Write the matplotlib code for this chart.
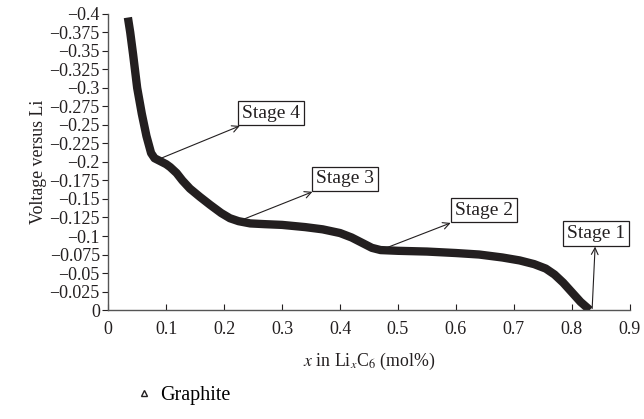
import matplotlib
matplotlib.use("Agg")
import matplotlib.pyplot as plt
from matplotlib.lines import Line2D

plt.rcParams['font.family'] = ['Liberation Serif', 'DejaVu Serif']
plt.rcParams['mathtext.fontset'] = 'stix'

# --- Data ---
x_li = [0.034, 0.038, 0.043, 0.050, 0.058, 0.066, 0.074, 0.080, 0.090, 0.100,
        0.107, 0.118, 0.128, 0.141, 0.158, 0.176, 0.195, 0.210, 0.225, 0.245,
        0.270, 0.300, 0.340, 0.370, 0.400, 0.420, 0.440, 0.455, 0.470, 0.500,
        0.550, 0.600, 0.640, 0.680, 0.710, 0.735, 0.755, 0.770, 0.785, 0.800,
        0.815, 0.831]
voltage = [-0.395, -0.375, -0.345, -0.300, -0.265, -0.235, -0.212, -0.205, -0.201, -0.197,
           -0.193, -0.185, -0.175, -0.164, -0.153, -0.142, -0.131, -0.124, -0.120, -0.117,
           -0.116, -0.115, -0.112, -0.109, -0.104, -0.098, -0.090, -0.084, -0.081, -0.080,
           -0.079, -0.077, -0.075, -0.071, -0.067, -0.062, -0.056, -0.048, -0.037, -0.024,
           -0.011, 0.0]

stages = ["Stage 4", "Stage 3", "Stage 2", "Stage 1"]
stage_points = [(0.085, -0.203), (0.225, -0.120), (0.470, -0.081), (0.835, -0.002)]
stage_text = [(0.231, -0.266), (0.358, -0.177), (0.598, -0.135), (0.791, -0.103)]

y_ticks = [-0.4, -0.375, -0.35, -0.325, -0.3, -0.275, -0.25, -0.225, -0.2, -0.175,
           -0.15, -0.125, -0.1, -0.075, -0.05, -0.025, 0]
y_labels = ["\u22120.4", "\u22120.375", "\u22120.35", "\u22120.325", "\u22120.3", "\u22120.275",
            "\u22120.25", "\u22120.225", "\u22120.2", "\u22120.175", "\u22120.15", "\u22120.125",
            "\u22120.1", "\u22120.075", "\u22120.05", "\u22120.025", "0"]
x_ticks = [0, 0.1, 0.2, 0.3, 0.4, 0.5, 0.6, 0.7, 0.8, 0.9]
x_labels = ["0", "0.1", "0.2", "0.3", "0.4", "0.5", "0.6", "0.7", "0.8", "0.9"]

ink = "#231f20"

fig = plt.figure(figsize=(6.44, 4.19), dpi=100)
ax = fig.add_axes([0.168, 0.26, 0.81, 0.707])

ax.plot(x_li, voltage, color=ink, lw=6, solid_capstyle='butt', solid_joinstyle='round')

for name, pt, txt in zip(stages, stage_points, stage_text):
    ax.annotate(name, xy=pt, xytext=txt, fontsize=14, color=ink,
                ha='left', va='center',
                bbox=dict(boxstyle='square,pad=0.2', fc='white', ec=ink, lw=0.9),
                arrowprops=dict(arrowstyle='<-', color=ink, lw=0.8,
                                shrinkA=0, shrinkB=0, mutation_scale=12))

ax.set_xlim(0, 0.9)
ax.set_ylim(0, -0.4)
ax.set_xticks(x_ticks)
ax.set_xticklabels(x_labels)
ax.set_yticks(y_ticks)
ax.set_yticklabels(y_labels)
ax.tick_params(axis='x', direction='in', length=4, pad=8, labelsize=13, colors=ink)
ax.tick_params(axis='y', direction='out', length=4, pad=2, labelsize=13, colors=ink)
for s in ['top', 'right']:
    ax.spines[s].set_visible(False)
for s in ['left', 'bottom']:
    ax.spines[s].set_color('#555555')
    ax.spines[s].set_linewidth(1.0)

ax.set_ylabel("Voltage versus Li", fontsize=12.8, color=ink, labelpad=2)
ax.set_xlabel(r"$\mathit{x}$ in Li$_{\mathit{x}}$C$_6$ (mol%)", fontsize=12.8, color=ink, labelpad=9)

handle = Line2D([], [], ls='none', marker='^', mfc='white', mec=ink, ms=5, mew=1)
fig.legend([handle], ["Graphite"], loc='lower left', bbox_to_anchor=(0.18, -0.01),
           frameon=False, fontsize=14.5, handletextpad=0.3, handlelength=1.0)

fig.savefig("out.png", dpi=100)
